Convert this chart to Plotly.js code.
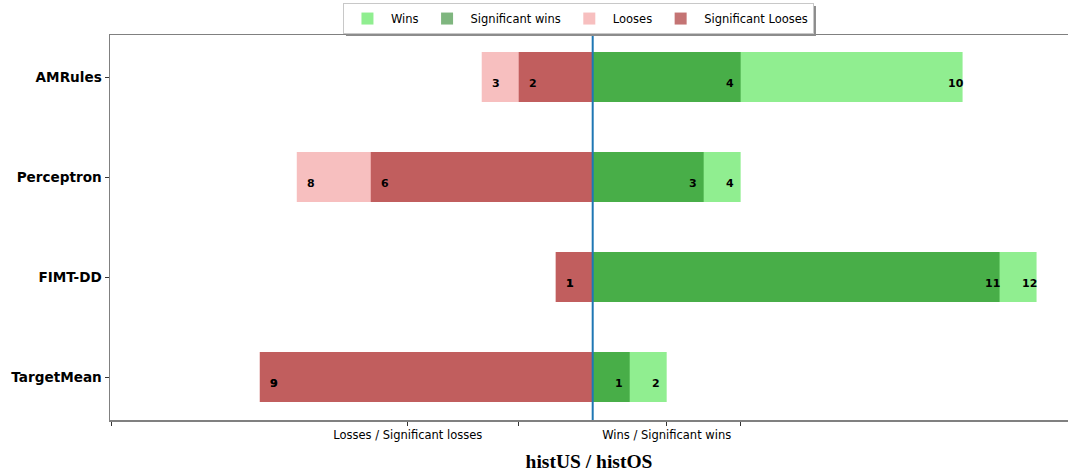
<!DOCTYPE html>
<html>
<head>
<meta charset="utf-8">
<script src="https://cdn.plot.ly/plotly-3.0.1.min.js"></script>
<style>html,body{margin:0;padding:0;background:#fff;}#chart{width:1068px;height:473px;}</style>
</head>
<body>
<div id="chart"></div>
<script>
const categories = ['AMRules', 'Perceptron', 'FIMT-DD', 'TargetMean'];
const wins = [10, 4, 12, 2];
const sigWins = [4, 3, 11, 1];
const looses = [3, 8, 1, 9];
const sigLooses = [2, 6, 1, 9];
const tickVals = [-13, -5, -2, 2, 4];
const tickText = ['', 'Losses / Significant losses', '', 'Wins / Significant wins', ''];
const xTitle = 'histUS / histOS';

const neg = a => a.map(v => -v);

const traces = [
  {type: 'bar', orientation: 'h', name: 'Wins', y: categories, x: wins, width: 0.5,
   marker: {color: 'rgb(144,238,144)'}, hoverinfo: 'skip'},
  {type: 'bar', orientation: 'h', name: 'Significant wins', y: categories, x: sigWins, width: 0.5,
   marker: {color: 'rgba(0,110,0,0.5)'}, hoverinfo: 'skip'},
  {type: 'bar', orientation: 'h', name: 'Looses', y: categories, x: neg(looses), width: 0.5,
   marker: {color: 'rgba(240,128,128,0.5)'}, hoverinfo: 'skip'},
  {type: 'bar', orientation: 'h', name: 'Significant Looses', y: categories, x: neg(sigLooses), width: 0.5,
   marker: {color: 'rgba(165,42,42,0.65)'}, hoverinfo: 'skip'}
];

const annFont = {family: 'DejaVu Sans', size: 11, color: '#000', weight: 'bold'};
const annotations = [];
function addLabels(vals, sign, xshift) {
  vals.forEach((v, i) => {
    annotations.push({x: sign * v, y: categories[i], xref: 'x', yref: 'y',
      text: '<b>' + v + '</b>', showarrow: false, xanchor: 'left', yanchor: 'middle',
      xshift: xshift, yshift: -6, font: annFont});
  });
}
addLabels(wins, 1, -17);
addLabels(sigWins, 1, -17);
addLabels(looses, -1, 8);
addLabels(sigLooses, -1, 8);

const M = {l: 110, r: 0, t: 35, b: 53};
const layout = {
  width: 1068, height: 473,
  margin: {l: M.l, r: M.r, t: M.t, b: M.b, pad: 0},
  paper_bgcolor: '#fff', plot_bgcolor: '#fff',
  barmode: 'overlay',
  font: {family: 'DejaVu Sans', size: 10, color: '#000'},
  xaxis: {
    range: [-13.05, 12.85], tickmode: 'array', tickvals: tickVals, ticktext: tickText,
    showgrid: false, zeroline: false, showline: true, linecolor: '#808080', linewidth: 1.5,
    mirror: true, ticks: 'outside', ticklen: 4, tickwidth: 1, tickcolor: '#333',
    tickfont: {family: 'DejaVu Sans', size: 11.5, color: '#000'},
    title: {text: '<b>' + xTitle + '</b>', font: {family: 'Liberation Serif', size: 19.5, color: '#000'}, standoff: 13}
  },
  yaxis: {
    type: 'category', categoryorder: 'array', categoryarray: categories.slice().reverse(),
    range: [-0.43, 3.42], showgrid: false, zeroline: false, showline: true,
    linecolor: '#808080', linewidth: 1.5, mirror: false,
    ticks: 'outside', ticklen: 4, tickwidth: 1, tickcolor: '#333',
    tickfont: {family: 'DejaVu Sans', size: 13.6, color: '#000', weight: 'bold'}
  },
  shapes: [
    {type: 'line', xref: 'x', yref: 'paper', x0: 0, x1: 0, y0: 0, y1: 1,
     line: {color: '#1f77b4', width: 2}}
  ],
  legend: {
    orientation: 'h', x: 0.489, xanchor: 'center', y: 1.083, yanchor: 'top',
    bgcolor: '#fff', bordercolor: '#c8c8c8', borderwidth: 1,
    font: {family: 'DejaVu Sans', size: 11.5, color: '#000'},
    itemwidth: 37, traceorder: 'normal'
  },
  annotations: annotations,
  showlegend: true
};

Plotly.newPlot('chart', traces, layout, {displayModeBar: false, staticPlot: true}).then(gd => {
  const bg = gd.querySelector('.legend .bg');
  if (!bg) return;
  const host = gd.getBoundingClientRect();
  const b = bg.getBoundingClientRect();
  const pw = 1068 - M.l - M.r, ph = 473 - M.t - M.b;
  const toPx = px => (px - host.left - M.l) / pw;
  const toPy = py => (473 - M.b - (py - host.top)) / ph;
  const off = 2.5;
  const shadow = {type: 'rect', xref: 'paper', yref: 'paper', layer: 'above',
    x0: toPx(b.left + off), x1: toPx(b.right + off),
    y0: toPy(b.bottom + off), y1: toPy(b.top + off),
    fillcolor: '#8c8c8c', line: {width: 0}};
  Plotly.relayout(gd, {shapes: layout.shapes.concat([shadow])});
});
</script>
</body>
</html>
